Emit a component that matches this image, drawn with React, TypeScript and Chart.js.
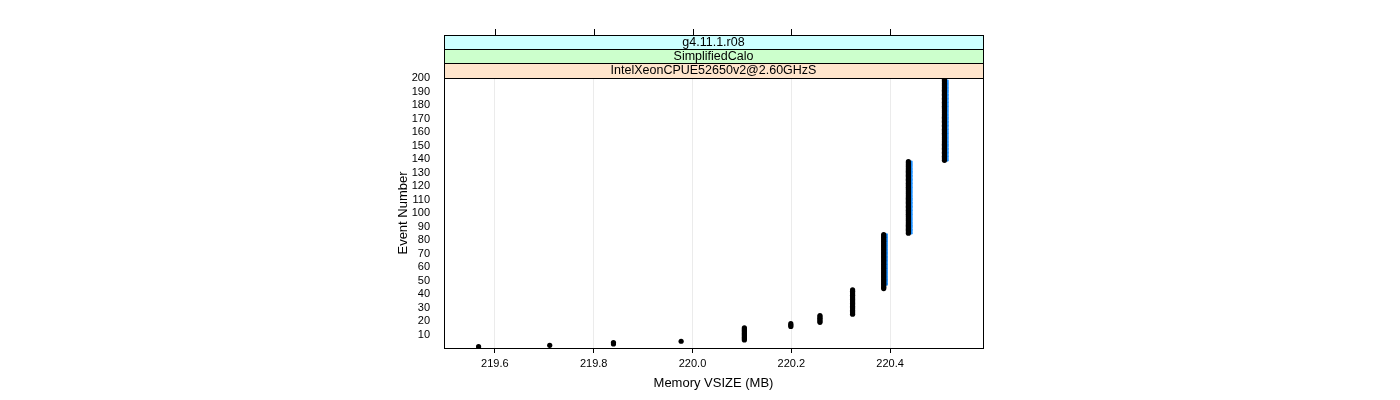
import React, { useEffect, useRef } from 'react';
import { Chart, registerables } from 'chart.js';

Chart.register(...registerables);

// Strip labels, bottom to top
const stripLabels = ['IntelXeonCPUE52650v2@2.60GHzS', 'SimplifiedCalo', 'g4.11.1.r08'];
const stripColors = ['#ffe5cc', '#ccffcc', '#ccffff'];

const xTicks = [219.6, 219.8, 220.0, 220.2, 220.4];
const yTicks = [10, 20, 30, 40, 50, 60, 70, 80, 90, 100, 110, 120, 130, 140, 150, 160, 170, 180, 190, 200];

// Main (black) points: memory VSIZE per run of consecutive events
const clusterVsize = [219.567, 219.711, 219.84, 219.977, 220.105, 220.199, 220.258, 220.324, 220.387, 220.437, 220.51];
const clusterFirstEvent = [1, 2, 3, 5, 6, 16, 19, 25, 44, 85, 139];
const clusterLastEvent = [1, 2, 4, 5, 15, 18, 24, 43, 84, 138, 200];

// Secondary (blue) points
const blueVsize = [220.393, 220.443, 220.516];
const blueFirstEvent = [47, 85, 139];
const blueLastEvent = [84, 138, 198];

function expand(xs: number[], first: number[], last: number[]) {
  const pts: { x: number; y: number }[] = [];
  xs.forEach((x, i) => {
    for (let e = first[i]; e <= last[i]; e++) pts.push({ x, y: e });
  });
  return pts;
}

const FONT = "'Liberation Sans', Arial, sans-serif";

const stripPlugin = {
  id: 'strips',
  afterDraw(chart: any) {
    const { ctx, chartArea } = chart;
    const { left, right, top, bottom } = chartArea;
    const edges = [78, 63, 49, 35];
    ctx.save();
    stripLabels.forEach((label, i) => {
      const y1 = edges[i];
      const y0 = edges[i + 1];
      ctx.fillStyle = stripColors[i];
      ctx.fillRect(left, y0, right - left, y1 - y0);
      ctx.fillStyle = '#000';
      ctx.font = `12.5px ${FONT}`;
      ctx.textAlign = 'center';
      ctx.textBaseline = 'middle';
      ctx.fillText(label, (left + right) / 2, (y0 + y1) / 2 + 0.5);
    });
    ctx.strokeStyle = '#000';
    ctx.lineWidth = 1;
    edges.forEach((y) => {
      ctx.beginPath();
      ctx.moveTo(left, y + 0.5);
      ctx.lineTo(right + 1, y + 0.5);
      ctx.stroke();
    });
    ctx.beginPath();
    ctx.moveTo(Math.round(left) + 0.5, 35);
    ctx.lineTo(Math.round(left) + 0.5, 78);
    ctx.moveTo(Math.round(right) + 0.5, 35);
    ctx.lineTo(Math.round(right) + 0.5, 78);
    ctx.stroke();
    // top ticks
    const xs = chart.scales.x;
    xTicks.forEach((v) => {
      const px = Math.round(xs.getPixelForValue(v)) + 0.5;
      ctx.beginPath();
      ctx.moveTo(px, 35);
      ctx.lineTo(px, 29);
      ctx.stroke();
    });
    // panel border
    ctx.strokeRect(Math.round(left) + 0.5, Math.round(top) + 0.5, Math.round(right - left), Math.round(bottom - top));
    ctx.restore();
  },
};

export default function App() {
  const ref = useRef<HTMLCanvasElement>(null);
  useEffect(() => {
    if (!ref.current) return;
    Chart.defaults.font.family = FONT;
    Chart.defaults.color = '#000';
    const chart = new Chart(ref.current, {
      type: 'scatter',
      data: {
        datasets: [
          {
            data: expand(clusterVsize, clusterFirstEvent, clusterLastEvent),
            backgroundColor: '#000',
            borderWidth: 0,
            pointRadius: 2.6,
            order: 0,
          },
          {
            data: expand(blueVsize, blueFirstEvent, blueLastEvent),
            backgroundColor: '#1e90ff',
            borderWidth: 0,
            pointRadius: 1.3,
            order: 1,
          },
        ],
      },
      options: {
        responsive: false,
        animation: false,
        devicePixelRatio: 1,
        layout: { padding: { left: 380, right: 417, top: 78, bottom: 0 } },
        plugins: { legend: { display: false }, tooltip: { enabled: false } },
        scales: {
          x: {
            type: 'linear',
            min: 219.497,
            max: 220.588,
            afterBuildTicks: (s: any) => {
              s.ticks = xTicks.map((v) => ({ value: v }));
            },
            afterFit: (s: any) => {
              s.height = 52;
            },
            ticks: {
              font: { size: 11 },
              padding: 4,
              maxRotation: 0,
              autoSkip: false,
              callback: (v: any) => Number(v).toFixed(1),
            },
            grid: { color: '#ebebeb', tickColor: '#000', tickLength: 5, lineWidth: 1 },
            border: { display: false },
            title: {
              display: true,
              text: 'Memory VSIZE (MB)',
              font: { size: 13 },
              padding: { top: 0, bottom: 9 },
            },
          },
          y: {
            type: 'linear',
            min: 0,
            max: 200,
            afterBuildTicks: (s: any) => {
              s.ticks = yTicks.map((v) => ({ value: v }));
            },
            afterFit: (s: any) => {
              s.width = 64;
            },
            ticks: { font: { size: 11 }, padding: 6, autoSkip: false },
            grid: { display: false },
            border: { display: false },
            title: {
              display: true,
              text: 'Event Number',
              font: { size: 13 },
              padding: { top: 16, bottom: 0 },
            },
          },
        },
      },
      plugins: [stripPlugin],
    });
    return () => chart.destroy();
  }, []);
  return (
    <div style={{ position: 'absolute', left: 0, top: 0, width: 1400, height: 400, background: '#fff' }}>
      <canvas ref={ref} width={1400} height={400} />
    </div>
  );
}
